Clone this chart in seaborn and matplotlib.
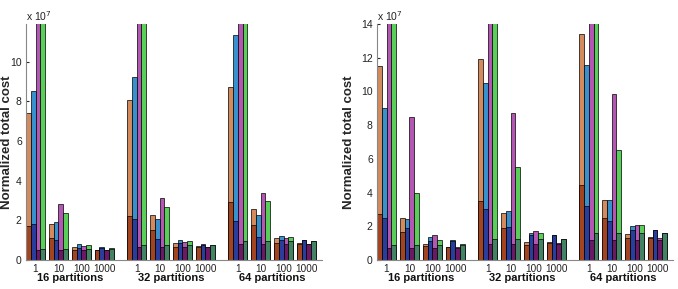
import pandas as pd
import matplotlib.pyplot as plt
import numpy as np
import seaborn as sns

sns.set_style("white")
plt.rcParams['font.family'] = ['Liberation Sans', 'DejaVu Sans']

partitions = ["16 partitions", "32 partitions", "64 partitions"]
sizes = ["1", "10", "100", "1000"]
series = ["orange", "blue", "magenta", "green"]

lightColors = {"orange": "#E6874A", "blue": "#1F95E6", "magenta": "#C447C4", "green": "#45E245"}
darkColors = {"orange": "#B83A0A", "blue": "#1630B0", "magenta": "#7A0A72", "green": "#3A8C64"}

# left panel (x 10^7), bars over the top are clipped
leftTotal = {
    "orange":  [7.4, 1.8, 0.66, 0.5, 8.05, 2.25, 0.86, 0.7, 8.7, 2.57, 1.11, 0.86],
    "blue":    [8.5, 1.92, 0.79, 0.66, 9.2, 2.05, 1.03, 0.82, 11.33, 2.25, 1.23, 1.03],
    "magenta": [13.0, 2.84, 0.7, 0.49, 13.0, 3.14, 0.9, 0.66, 13.0, 3.36, 1.13, 0.82],
    "green":   [13.0, 2.35, 0.74, 0.6, 13.0, 2.67, 0.94, 0.77, 13.0, 2.97, 1.16, 0.96],
}
leftDark = {
    "orange":  [1.7, 1.13, 0.5, 0.5, 2.22, 1.5, 0.67, 0.67, 2.9, 1.76, 0.86, 0.82],
    "blue":    [1.8, 1.0, 0.62, 0.62, 2.05, 1.04, 0.84, 0.76, 1.95, 1.16, 1.03, 1.0],
    "magenta": [0.5, 0.5, 0.5, 0.49, 0.67, 0.67, 0.67, 0.66, 0.8, 0.8, 0.8, 0.8],
    "green":   [0.58, 0.58, 0.56, 0.58, 0.76, 0.76, 0.76, 0.76, 0.95, 0.95, 0.95, 0.95],
}

# right panel (x 10^7)
rightTotal = {
    "orange":  [11.5, 2.5, 0.96, 0.78, 11.9, 2.8, 1.04, 1.04, 13.4, 3.54, 1.54, 1.34],
    "blue":    [9.0, 2.45, 1.34, 1.18, 10.5, 2.88, 1.58, 1.5, 11.57, 3.54, 2.04, 1.8],
    "magenta": [16.0, 8.5, 1.5, 0.76, 16.0, 8.7, 1.7, 0.98, 16.0, 9.85, 2.08, 1.3],
    "green":   [16.0, 4.0, 1.2, 0.94, 16.0, 5.5, 1.62, 1.22, 16.0, 6.55, 2.08, 1.58],
}
rightDark = {
    "orange":  [2.7, 1.64, 0.86, 0.78, 3.5, 1.88, 0.9, 1.0, 4.45, 2.5, 1.3, 1.3],
    "blue":    [2.5, 1.88, 1.14, 1.14, 3.0, 1.95, 1.46, 1.46, 3.2, 2.34, 1.78, 1.78],
    "magenta": [0.74, 0.74, 0.74, 0.74, 0.94, 0.94, 0.94, 0.94, 1.18, 1.18, 1.18, 1.18],
    "green":   [0.9, 0.9, 0.9, 0.9, 1.22, 1.22, 1.22, 1.22, 1.58, 1.58, 1.58, 1.58],
}

groupStep = 4.42
barW = 0.207


def buildFrame(total, dark):
    rows = []
    for k, s in enumerate(series):
        for i in range(12):
            g, j = divmod(i, 4)
            pos = g * groupStep + j + (k - 1.5) * barW
            rows.append({"pos": round(pos, 4), "series": s, "total": total[s][i], "dark": dark[s][i]})
    return pd.DataFrame(rows)


def drawPanel(ax, total, dark, ymax, yticks, ylabel, labelX):
    df = buildFrame(total, dark)
    sns.barplot(data=df, x="pos", y="total", hue="series", palette=lightColors, native_scale=True,
                dodge=False, width=1, edgecolor="black", linewidth=0.5, errorbar=None, legend=False, ax=ax)
    sns.barplot(data=df, x="pos", y="dark", hue="series", palette=darkColors, native_scale=True,
                dodge=False, width=1, edgecolor="black", linewidth=0.5, errorbar=None, legend=False, ax=ax)
    for p in ax.patches:
        p.set_alpha(1)
    centers = [g * groupStep + j for g in range(3) for j in range(4)]
    ax.set_xticks(centers)
    ax.set_xticklabels(sizes * 3, fontsize=7.2, color="#222222")
    ax.set_xlim(-0.42, 2 * groupStep + 3.68)
    ax.set_ylim(0, ymax)
    ax.set_yticks(yticks)
    ax.set_yticklabels([str(t) for t in yticks], fontsize=7.5, color="#222222")
    ax.tick_params(axis="x", length=0, pad=3)
    ax.tick_params(axis="y", length=2, direction="in", pad=3, left=True)
    ax.set_xlabel("")
    ax.set_ylabel(ylabel, fontsize=9.5, fontweight="bold")
    ax.yaxis.set_label_coords(labelX, 0.5)
    for sp in ["top", "right"]:
        ax.spines[sp].set_visible(False)
    for sp in ["left", "bottom"]:
        ax.spines[sp].set_color("#888888")
        ax.spines[sp].set_linewidth(0.8)
    for g, name in enumerate(partitions):
        ax.text(g * groupStep + 1.5, -0.078, name, transform=ax.get_xaxis_transform(),
                ha="center", va="center", fontsize=8, fontweight="bold", color="#111111")
    ax.text(0.0, 1.005, r"x 10$^7$", transform=ax.transAxes, ha="left", va="bottom", fontsize=7.5, color="#222222")


fig = plt.figure(figsize=(6.78, 2.89), dpi=100)
ax1 = fig.add_axes([0.0383, 0.1003, 0.4366, 0.817])
ax2 = fig.add_axes([0.556, 0.1003, 0.4366, 0.817])

drawPanel(ax1, leftTotal, leftDark, 11.9, [0, 2, 4, 6, 8, 10], "Normalized total cost", -0.045)
drawPanel(ax2, rightTotal, rightDark, 14, [0, 2, 4, 6, 8, 10, 12, 14], "Normalized total cost", -0.075)

fig.savefig("out.png", dpi=100)
